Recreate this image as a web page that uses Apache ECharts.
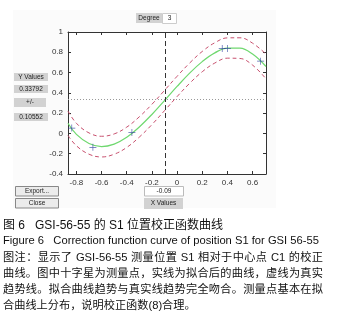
<!DOCTYPE html>
<html>
<head>
<meta charset="utf-8">
<script src="https://cdn.jsdelivr.net/npm/echarts@6/dist/echarts.min.js"></script>
<style>
  html, body { margin: 0; padding: 0; background: #fff; }
  #chart { position: absolute; left: 0; top: 0; width: 342px; height: 332px; }
  #caption {
    position: absolute; left: 3px; top: 218px; width: 320px;
    font-family: "Liberation Sans", "Noto Sans CJK SC", sans-serif;
    color: #111;
  }
  #caption .t1 { font-size: 12px; line-height: 15px; }
  #caption .t2 { font-size: 11.2px; line-height: 15px; white-space: nowrap; }
  #caption .note { font-size: 11.2px; line-height: 16px; white-space: nowrap; text-align: justify; text-align-last: justify; }
  #caption .note.last { text-align-last: left; }
  #caption .first { margin-top: 1px; }
</style>
</head>
<body>
<div id="chart"></div>
<div id="caption">
  <div class="t1">图 6&nbsp;&nbsp; GSI-56-55 的 S1 位置校正函数曲线</div>
  <div class="t2">Figure 6&nbsp;&nbsp; Correction function curve of position S1 for GSI 56-55</div>
  <div class="note first">图注：显示了 GSI-56-55 测量位置 S1 相对于中心点 C1 的校正</div>
  <div class="note">曲线。图中十字星为测量点，实线为拟合后的曲线，虚线为真实</div>
  <div class="note">趋势线。拟合曲线趋势与真实线趋势完全吻合。测量点基本在拟</div>
  <div class="note last">合曲线上分布，说明校正函数(8)合理。</div>
</div>
<script>
// fitted curve and confidence bounds
const fitX = [-0.867, -0.8, -0.7, -0.6, -0.5, -0.4, -0.3, -0.2, -0.1, 0, 0.1, 0.2, 0.3, 0.4, 0.5, 0.6, 0.707];
const fitY = [0.10, -0.01, -0.10, -0.13, -0.105, -0.038, 0.064, 0.187, 0.324, 0.463, 0.594, 0.708, 0.794, 0.842, 0.841, 0.782, 0.66];
const upperY = [0.22, 0.10, 0.005, -0.028, -0.005, 0.062, 0.164, 0.287, 0.424, 0.563, 0.694, 0.808, 0.894, 0.942, 0.943, 0.89, 0.782];
const lowerY = [-0.02, -0.122, -0.205, -0.232, -0.205, -0.138, -0.036, 0.087, 0.224, 0.363, 0.494, 0.608, 0.694, 0.742, 0.739, 0.674, 0.538];

// measured points
const ptX = [-0.837, -0.669, -0.359, 0.359, 0.401, 0.664];
const ptY = [0.053, -0.137, 0.01, 0.837, 0.837, 0.712];

const xTicks = [-0.8, -0.6, -0.4, -0.2, 0, 0.2, 0.4, 0.6];
const xCursor = -0.09;
const yCursor = 0.33792;
const yDelta = 0.10552;
const degree = 3;

const chart = echarts.init(document.getElementById('chart'));

const pair = (xs, ys) => xs.map((x, i) => [x, ys[i]]);
const plus = 'path://M4.5,0h1v4.5h4.5v1h-4.5v4.5h-1v-4.5h-4.5v-1h4.5z';
const uiFont = { fontFamily: 'Liberation Sans', fontSize: 6.5, fill: '#222' };

const box = (x, y, w, h, fill, stroke, label) => ({
  type: 'group',
  children: [
    { type: 'rect', shape: { x: x, y: y, width: w, height: h }, style: { fill: fill, stroke: stroke, lineWidth: 1 } },
    { type: 'text', x: x + w / 2, y: y + h / 2, style: Object.assign({ text: label, align: 'center', verticalAlign: 'middle' }, uiFont) }
  ]
});

const tickStyle = { show: true, inside: true, length: 3, lineStyle: { color: '#333' } };
const lineStyle = { show: true, onZero: false, lineStyle: { color: '#333', width: 1 } };

const option = {
  animation: false,
  backgroundColor: '#fff',
  graphic: [
    { type: 'rect', z: -10, shape: { x: 13, y: 10, width: 263, height: 198 }, style: { fill: '#fbfbfb' } },
    box(136, 13, 26, 10, '#d2d2d2', null, 'Degree'),
    box(162.5, 13.5, 14, 10, '#fff', '#ccc', String(degree)),
    box(14, 73, 34, 8, '#d2d2d2', null, 'Y Values'),
    box(14, 85, 34, 8, '#d2d2d2', null, String(yCursor)),
    box(14, 98, 32, 9, '#d2d2d2', null, '+/-'),
    box(14, 113, 34, 8, '#d2d2d2', null, String(yDelta)),
    box(15.5, 186.5, 43, 9.5, '#ececec', '#888', 'Export...'),
    box(15.5, 198.5, 43, 9.5, '#ececec', '#888', 'Close'),
    box(144.5, 186.5, 39, 9.5, '#fff', '#bbb', String(xCursor)),
    box(144, 198, 39, 11, '#d2d2d2', null, 'X Values')
  ],
  grid: { left: 68, top: 32, width: 198, height: 142, show: true, backgroundColor: '#fff', borderWidth: 0 },
  xAxis: [
    {
      type: 'value', min: -0.867, max: 0.707, position: 'bottom',
      axisLine: lineStyle, splitLine: { show: false },
      axisTick: Object.assign({ customValues: xTicks }, tickStyle),
      axisLabel: {
        customValues: xTicks, color: '#333', fontSize: 8, fontFamily: 'Liberation Sans', margin: 5,
        formatter: v => String(v)
      }
    },
    {
      type: 'value', min: -0.867, max: 0.707, position: 'top',
      axisLine: lineStyle, splitLine: { show: false },
      axisTick: Object.assign({ customValues: xTicks }, tickStyle),
      axisLabel: { show: false }
    }
  ],
  yAxis: [
    {
      type: 'value', min: -0.4, max: 1, interval: 0.2, position: 'left',
      axisLine: lineStyle, axisTick: tickStyle, splitLine: { show: false },
      axisLabel: { color: '#333', fontSize: 8, fontFamily: 'Liberation Sans', margin: 5, formatter: v => String(+v.toFixed(1)) }
    },
    {
      type: 'value', min: -0.4, max: 1, interval: 0.2, position: 'right',
      axisLine: lineStyle, axisTick: tickStyle, splitLine: { show: false },
      axisLabel: { show: false }
    }
  ],
  series: [
    {
      type: 'line', data: pair(fitX, upperY), smooth: 0.4, showSymbol: false,
      lineStyle: { color: '#c8506e', width: 1, type: [4, 3] }
    },
    {
      type: 'line', data: pair(fitX, lowerY), smooth: 0.4, showSymbol: false,
      lineStyle: { color: '#c8506e', width: 1, type: [4, 3] }
    },
    {
      type: 'line', data: pair(fitX, fitY), smooth: 0.4, showSymbol: false,
      lineStyle: { color: '#6fd86f', width: 1.2 },
      markLine: {
        silent: true, symbol: 'none', label: { show: false },
        data: [
          { xAxis: xCursor, lineStyle: { color: '#333', type: [5, 3], width: 1 } },
          { yAxis: yCursor, lineStyle: { color: '#999', type: [1, 2], width: 1 } }
        ]
      }
    },
    {
      type: 'scatter', data: pair(ptX, ptY), symbol: plus, symbolSize: 7,
      itemStyle: { color: '#2a3f9e' }, z: 5
    }
  ]
};

chart.setOption(option);
</script>
</body>
</html>
